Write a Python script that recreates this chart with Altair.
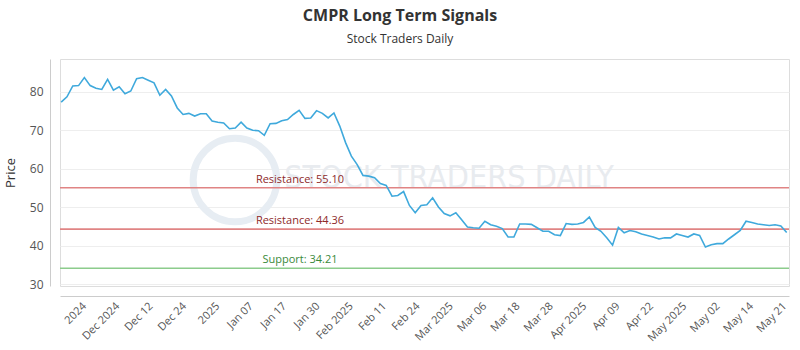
import altair as alt
import pandas as pd

# Daily closing prices (one per trading day)
prices = [
    77.3, 78.7, 81.5, 81.6, 83.7, 81.6, 80.9, 80.6, 83.2, 80.4,
    81.3, 79.5, 80.2, 83.4, 83.7, 83.0, 82.3, 79.1, 80.6, 78.9,
    75.8, 74.1, 74.4, 73.7, 74.3, 74.3, 72.4, 72.1, 71.9, 70.4,
    70.6, 72.1, 70.6, 70.0, 69.9, 68.7, 71.7, 71.8, 72.5, 72.8,
    74.1, 75.2, 73.1, 73.2, 75.1, 74.4, 73.2, 74.5, 71.1, 66.8,
    63.3, 61.1, 58.3, 58.1, 57.7, 56.2, 55.7, 52.9, 53.1, 54.1,
    50.5, 48.6, 50.5, 50.7, 52.5, 50.1, 48.4, 47.8, 48.6, 46.8,
    44.9, 44.7, 44.6, 46.4, 45.5, 45.1, 44.5, 42.3, 42.3, 45.7,
    45.7, 45.6, 44.7, 43.8, 43.8, 42.9, 42.7, 45.8, 45.6, 45.7,
    46.1, 47.5, 44.8, 43.8, 42.1, 40.2, 44.8, 43.4, 44.0, 43.7,
    43.1, 42.7, 42.3, 41.8, 42.1, 42.1, 43.1, 42.7, 42.3, 43.1,
    42.7, 39.7, 40.3, 40.6, 40.6, 41.8, 42.9, 44.0, 46.4, 46.1,
    45.7, 45.5, 45.3, 45.5, 45.2, 43.5,
]

tick_labels = [
    "2024", "Dec 2024", "Dec 12", "Dec 24", "2025", "Jan 07", "Jan 17",
    "Jan 30", "Feb 2025", "Feb 11", "Feb 24", "Mar 2025", "Mar 06",
    "Mar 18", "Mar 28", "Apr 2025", "Apr 09", "Apr 22", "May 2025",
    "May 02", "May 14", "May 21",
]
tick_positions = [
    3.25, 9.0, 14.74, 20.49, 26.24, 31.98, 37.73, 43.47, 49.22, 54.96,
    60.71, 66.46, 72.2, 77.95, 83.69, 89.44, 95.18, 100.93, 106.68,
    112.42, 118.17, 123.91,
]

level_names = ["Resistance", "Resistance", "Support"]
level_values = [55.10, 44.36, 34.21]

y_ticks = [30, 40, 50, 60, 70, 80]

price_df = pd.DataFrame({"idx": list(range(len(prices))), "price": prices})
level_df = pd.DataFrame({"name": level_names, "value": level_values})
level_df["label"] = level_df["name"] + ": " + level_df["value"].map(lambda v: f"{v:.2f}")

FONT = "Open Sans"
label_js = "[" + ",".join(f"'{t}'" for t in tick_labels) + "]"

x_scale = alt.Scale(domain=[-0.2, 125.4], nice=False, zero=False)
y_scale = alt.Scale(domain=[29.6, 88.5], nice=False, zero=False)

x_axis = alt.Axis(
    values=tick_positions,
    labelExpr=f"{label_js}[round((datum.value - 3.25) / 5.746)]",
    labelAngle=-45, labelOverlap=False, labelFlush=False,
    ticks=False, grid=False, offset=10, domainColor="#cccccc",
    labelColor="#555555", labelFontSize=11, labelFont=FONT, labelPadding=4,
    title=None,
)
y_axis = alt.Axis(
    values=y_ticks, ticks=False, offset=10, domainColor="#cccccc",
    labelColor="#555555", labelFontSize=12, labelFont=FONT, labelPadding=7,
    grid=True, gridColor="#eeeeee",
    title="Price", titleFont=FONT, titleFontSize=13, titleFontWeight="normal",
    titleColor="#333333", titlePadding=12,
)

base = alt.Chart(price_df)

wm_df = pd.DataFrame({"t": ["STOCK TRADERS DAILY"]})
wm_circle = alt.Chart(wm_df).mark_point(
    shape="circle", size=7000, filled=False, stroke="#e7edf3", strokeWidth=7, opacity=1
).encode(x=alt.value(175), y=alt.value(121))
wm_text = alt.Chart(wm_df).mark_text(
    font="DejaVu Sans Condensed", fontSize=32, color="#e8ebef", align="center", baseline="middle"
).encode(x=alt.value(389), y=alt.value(119), text="t:N")

line = base.mark_line(color="#3fa9dc", strokeWidth=1.6).encode(
    x=alt.X("idx:Q", scale=x_scale, axis=x_axis),
    y=alt.Y("price:Q", scale=y_scale, axis=y_axis),
)

level_color = alt.Color(
    "name:N",
    scale=alt.Scale(domain=["Resistance", "Support"], range=["#e08484", "#8ccc8c"]),
    legend=None,
)
rules = alt.Chart(level_df).mark_rule(strokeWidth=1.6).encode(
    y=alt.Y("value:Q", scale=y_scale), color=level_color
)
texts = alt.Chart(level_df).mark_text(
    font=FONT, fontSize=11, align="center", baseline="middle", dy=-8
).encode(
    x=alt.value(240),
    y=alt.Y("value:Q", scale=y_scale),
    text="label:N",
    color=alt.Color(
        "name:N",
        scale=alt.Scale(domain=["Resistance", "Support"], range=["#8e2a2a", "#3a8a3a"]),
        legend=None,
    ),
)

chart = (
    alt.layer(wm_circle, wm_text, rules, line, texts)
    .resolve_scale(color="independent")
    .properties(
        width=729,
        height=227,
        autosize=alt.AutoSizeParams(type="none"),
        padding={"left": 60, "top": 59, "right": 11, "bottom": 64},
        title=alt.TitleParams(
            text="CMPR Long Term Signals",
            subtitle="Stock Traders Daily",
            anchor="middle",
            dx=-24.5,
            font=FONT, fontSize=16, fontWeight="bold", color="#333333",
            subtitleFont=FONT, subtitleFontSize=12, subtitleColor="#333333",
            subtitlePadding=10, offset=14,
        ),
    )
    .configure_view(stroke="#666666", strokeWidth=1)
    .configure(background="white")
)

chart.save("out.html", embed_options={"renderer": "svg", "actions": False})
